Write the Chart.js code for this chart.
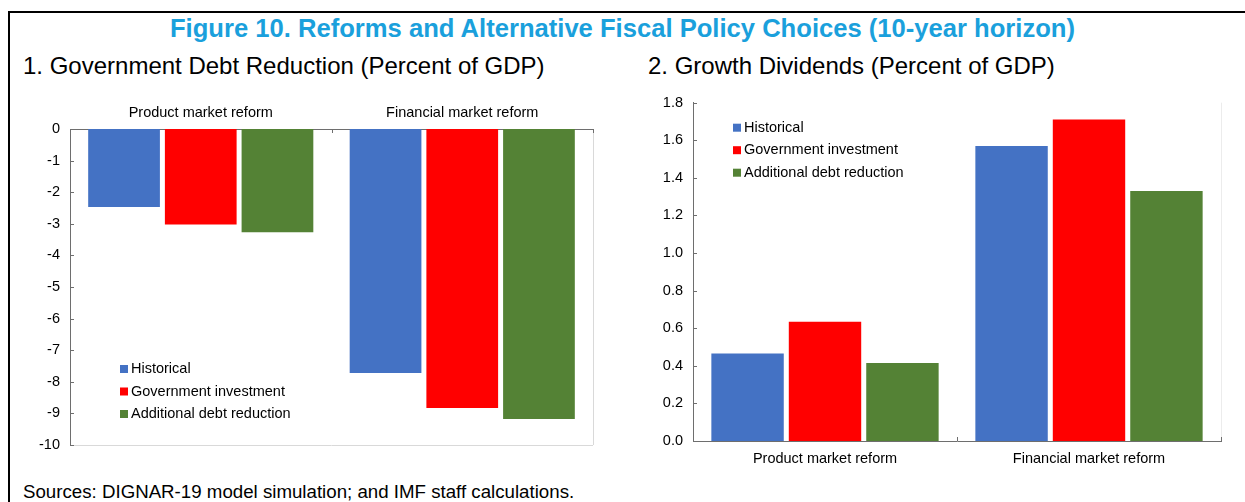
<!DOCTYPE html>
<html>
<head>
<meta charset="utf-8">
<script src="https://cdn.jsdelivr.net/npm/chart.js@4/dist/chart.umd.min.js"></script>
<style>
  html, body { margin: 0; padding: 0; background: #fff; }
  body { width: 1245px; height: 502px; position: relative; overflow: hidden;
         font-family: "Liberation Sans", Arial, sans-serif; color: #000; }
  .frame { position: absolute; left: 8px; top: 11px; right: -4px; bottom: -4px;
           border-top: 2px solid #000; border-left: 2px solid #000; }
  .title { position: absolute; left: 0; width: 1245px; top: 14px; text-align: center;
           font-size: 25.6px; font-weight: bold; color: #1aa0dc; white-space: nowrap; }
  .sub { position: absolute; top: 52px; font-size: 24px; white-space: nowrap; }
  .sources { position: absolute; left: 23px; top: 481px; font-size: 18.7px; white-space: nowrap; }
  canvas { position: absolute; }
</style>
</head>
<body>
<div class="frame"></div>
<div class="title">Figure 10. Reforms and Alternative Fiscal Policy Choices (10-year horizon)</div>
<div class="sub" style="left:23px">1. Government Debt Reduction (Percent of GDP)</div>
<div class="sub" style="left:648px">2. Growth Dividends (Percent of GDP)</div>
<div class="sources">Sources: DIGNAR-19 model simulation; and IMF staff calculations.</div>
<canvas id="debtChart" width="620" height="380" style="left:0;top:90px"></canvas>
<canvas id="growthChart" width="625" height="391" style="left:620px;top:84px"></canvas>
<script>
// data
const categories = ['Product market reform', 'Financial market reform'];
const seriesNames = ['Historical', 'Government investment', 'Additional debt reduction'];
const seriesColors = ['#4472C4', '#FF0000', '#548235'];

// panel 1: government debt reduction, % of GDP
const debtHistorical = [-2.47, -7.72];
const debtGovInvestment = [-3.02, -8.83];
const debtAddReduction = [-3.27, -9.18];

// panel 2: growth dividends, % of GDP
const growthHistorical = [0.465, 1.57];
const growthGovInvestment = [0.635, 1.71];
const growthAddReduction = [0.415, 1.33];

const FONT = '"Liberation Sans", Arial, sans-serif';
const FONT_SIZE = 14.5;
const AXIS_COLOR = '#6e6e6e';

// legend drawn inside the plot area
const insideLegend = {
    id: 'insideLegend',
    afterDatasetsDraw(chart, args, opts) {
        const { ctx, chartArea } = chart;
        ctx.save();
        ctx.font = FONT_SIZE + 'px ' + FONT;
        ctx.textBaseline = 'middle';
        chart.data.datasets.forEach((ds, i) => {
            const x = chartArea.left + opts.x;
            const y = chartArea.top + opts.y + i * opts.spacing;
            ctx.fillStyle = ds.backgroundColor;
            ctx.fillRect(x, y - 4, 8, 8);
            ctx.fillStyle = '#000';
            ctx.fillText(ds.label, x + 11, y);
        });
        ctx.restore();
    }
};

// light grey plot border + inward tick marks (excel style)
const plotFrame = {
    id: 'plotFrame',
    beforeDatasetsDraw(chart, args, opts) {
        const { ctx, chartArea: a } = chart;
        ctx.save();
        ctx.strokeStyle = opts.color;
        ctx.lineWidth = 1;
        ctx.beginPath();
        if (opts.sides.includes('right')) { ctx.moveTo(a.right + 0.5, a.top); ctx.lineTo(a.right + 0.5, a.bottom); }
        if (opts.sides.includes('bottom')) { ctx.moveTo(a.left, a.bottom + 0.5); ctx.lineTo(a.right, a.bottom + 0.5); }
        ctx.stroke();
        ctx.restore();
    },
    afterDraw(chart, args, opts) {
        const { ctx, chartArea: a, scales } = chart;
        const len = 4;
        ctx.save();
        ctx.strokeStyle = AXIS_COLOR;
        ctx.lineWidth = 1;
        ctx.beginPath();
        scales.y.ticks.forEach(t => {
            const py = Math.round(scales.y.getPixelForValue(t.value)) + 0.5;
            ctx.moveTo(a.left, py);
            ctx.lineTo(a.left + len, py);
        });
        const top = scales.x.position === 'top';
        const base = top ? a.top : a.bottom;
        for (let i = 0; i <= categories.length; i++) {
            const px = Math.round(scales.x.getPixelForValue(i - 0.5)) + 0.5;
            ctx.moveTo(px, base);
            ctx.lineTo(px, top ? base + len : base - len);
        }
        ctx.stroke();
        ctx.restore();
    }
};

function makeDatasets(values) {
    return values.map((data, i) => ({
        label: seriesNames[i],
        data: data,
        backgroundColor: seriesColors[i],
        borderWidth: 0,
        categoryPercentage: 0.88,
        barPercentage: 0.935
    }));
}

function baseOptions() {
    return {
        responsive: false,
        animation: false,
        devicePixelRatio: 1,
        plugins: { legend: { display: false }, tooltip: { enabled: false } },
        scales: {
            x: {
                grid: { display: false, drawTicks: false },
                border: { display: true, color: AXIS_COLOR, width: 1 },
                ticks: { color: '#000', font: { family: FONT, size: FONT_SIZE }, maxRotation: 0 }
            },
            y: {
                grid: { display: false, drawTicks: false },
                border: { display: true, color: AXIS_COLOR, width: 1 },
                ticks: { color: '#000', font: { family: FONT, size: FONT_SIZE }, padding: 10 }
            }
        }
    };
}

// panel 1
const debtOpts = baseOptions();
debtOpts.layout = { padding: { left: 0, right: 27, top: 0, bottom: 25 } };
debtOpts.scales.x.position = 'top';
debtOpts.scales.x.ticks.padding = 7;
debtOpts.scales.x.afterFit = s => { s.height = 39; };
debtOpts.scales.y.min = -10;
debtOpts.scales.y.max = 0;
debtOpts.scales.y.ticks.stepSize = 1;
debtOpts.scales.y.afterFit = s => { s.width = 70; };
debtOpts.plugins.insideLegend = { x: 50, y: 240, spacing: 22.5 };
debtOpts.plugins.plotFrame = { color: '#d9d9d9', sides: ['right', 'bottom'] };

new Chart(document.getElementById('debtChart'), {
    type: 'bar',
    data: { labels: categories, datasets: makeDatasets([debtHistorical, debtGovInvestment, debtAddReduction]) },
    options: debtOpts,
    plugins: [plotFrame, insideLegend]
});

// panel 2
const growthOpts = baseOptions();
growthOpts.layout = { autoPadding: false, padding: { left: 0, right: 24, top: 12, bottom: 0 } };
growthOpts.scales.x.ticks.padding = 9;
growthOpts.scales.x.afterFit = s => { s.height = 34; };
growthOpts.scales.y.min = 0;
growthOpts.scales.y.max = 1.8;
growthOpts.scales.y.ticks.stepSize = 0.2;
growthOpts.scales.y.ticks.callback = v => v.toFixed(1);
growthOpts.scales.y.afterFit = s => { s.width = 73; };
growthOpts.plugins.insideLegend = { x: 40, y: 25, spacing: 22.5 };
growthOpts.plugins.plotFrame = { color: '#ececec', sides: ['right'] };

new Chart(document.getElementById('growthChart'), {
    type: 'bar',
    data: { labels: categories, datasets: makeDatasets([growthHistorical, growthGovInvestment, growthAddReduction]) },
    options: growthOpts,
    plugins: [plotFrame, insideLegend]
});
</script>
</body>
</html>
